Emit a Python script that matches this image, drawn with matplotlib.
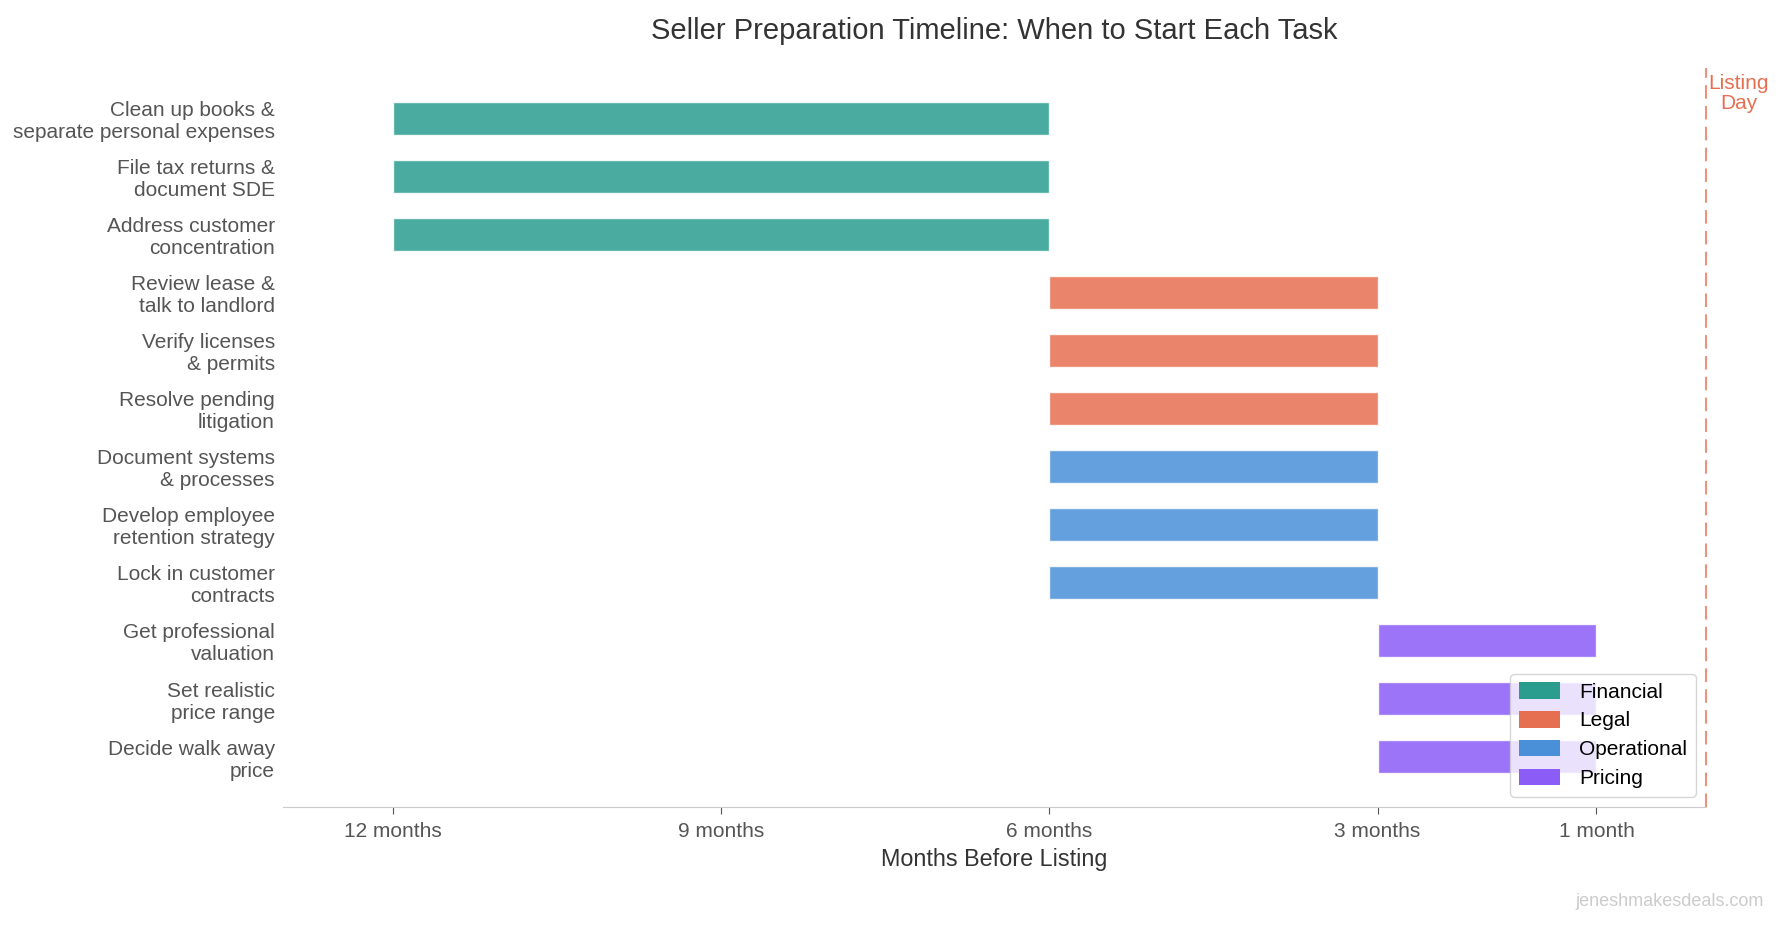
import matplotlib.pyplot as plt
from matplotlib.patches import Patch

plt.rcParams['font.family'] = ['Liberation Sans', 'DejaVu Sans']

# tasks top to bottom
tasks = [
    "Clean up books &\nseparate personal expenses",
    "File tax returns &\ndocument SDE",
    "Address customer\nconcentration",
    "Review lease &\ntalk to landlord",
    "Verify licenses\n& permits",
    "Resolve pending\nlitigation",
    "Document systems\n& processes",
    "Develop employee\nretention strategy",
    "Lock in customer\ncontracts",
    "Get professional\nvaluation",
    "Set realistic\nprice range",
    "Decide walk away\nprice",
]
start_months = [12, 12, 12, 6, 6, 6, 6, 6, 6, 3, 3, 3]
end_months = [6, 6, 6, 3, 3, 3, 3, 3, 3, 1, 1, 1]
categories = ["Financial"] * 3 + ["Legal"] * 3 + ["Operational"] * 3 + ["Pricing"] * 3

cat_names = ["Financial", "Legal", "Operational", "Pricing"]
cat_colors = {"Financial": "#2a9d8f", "Legal": "#e76f51",
              "Operational": "#4a90d9", "Pricing": "#8b5cf6"}

tick_vals = [12, 9, 6, 3, 1]
tick_labels = ["12 months", "9 months", "6 months", "3 months", "1 month"]

fig = plt.figure(figsize=(17.85, 9.25), dpi=100)
ax = fig.add_axes([0.1586, 0.1276, 0.7971, 0.7989])

for i, (t, s, e, c) in enumerate(zip(tasks, start_months, end_months, categories)):
    ax.barh(i, s - e, left=e, height=0.57, color=cat_colors[c], alpha=0.85,
            edgecolor='white', linewidth=1)

ax.set_xlim(13, 0)
ax.set_ylim(len(tasks) - 1 + 0.87, -0.87)

ax.set_yticks(range(len(tasks)))
ax.set_yticklabels(tasks, fontsize=15, color='#555555')
ax.tick_params(axis='y', length=0, pad=6)

ax.set_xticks(tick_vals)
ax.set_xticklabels(tick_labels, fontsize=15, color='#555555')
ax.tick_params(axis='x', length=5, color='#555555', pad=6)

for sp in ['top', 'right', 'left']:
    ax.spines[sp].set_visible(False)
ax.spines['bottom'].set_color('#cccccc')

ax.axvline(0, color='#e76f51', linestyle=(0, (6.5, 3.5)), linewidth=1.5, alpha=0.75,
           clip_on=False)
ax.text(-0.3, -0.43, "Listing\nDay", color='#e76f51', fontsize=15, ha='center',
        va='center', clip_on=False, linespacing=1.05)

ax.set_xlabel("Months Before Listing", fontsize=16.8, color='#333333', labelpad=5)
ax.set_title("Seller Preparation Timeline: When to Start Each Task", fontsize=21,
             color='#333333', pad=21)

handles = [Patch(facecolor=cat_colors[n], label=n) for n in cat_names]
leg = ax.legend(handles=handles, loc='lower right', fontsize=15, frameon=True,
                borderaxespad=0.5, handlelength=2.0, handleheight=0.85,
                labelspacing=0.45, handletextpad=0.9)
leg.get_frame().set_edgecolor('#cccccc')

fig.text(0.988, 0.025, "jeneshmakesdeals.com", fontsize=13, color='#cccccc',
         ha='right', va='center')

fig.savefig("out.png", dpi=100, facecolor='white')
